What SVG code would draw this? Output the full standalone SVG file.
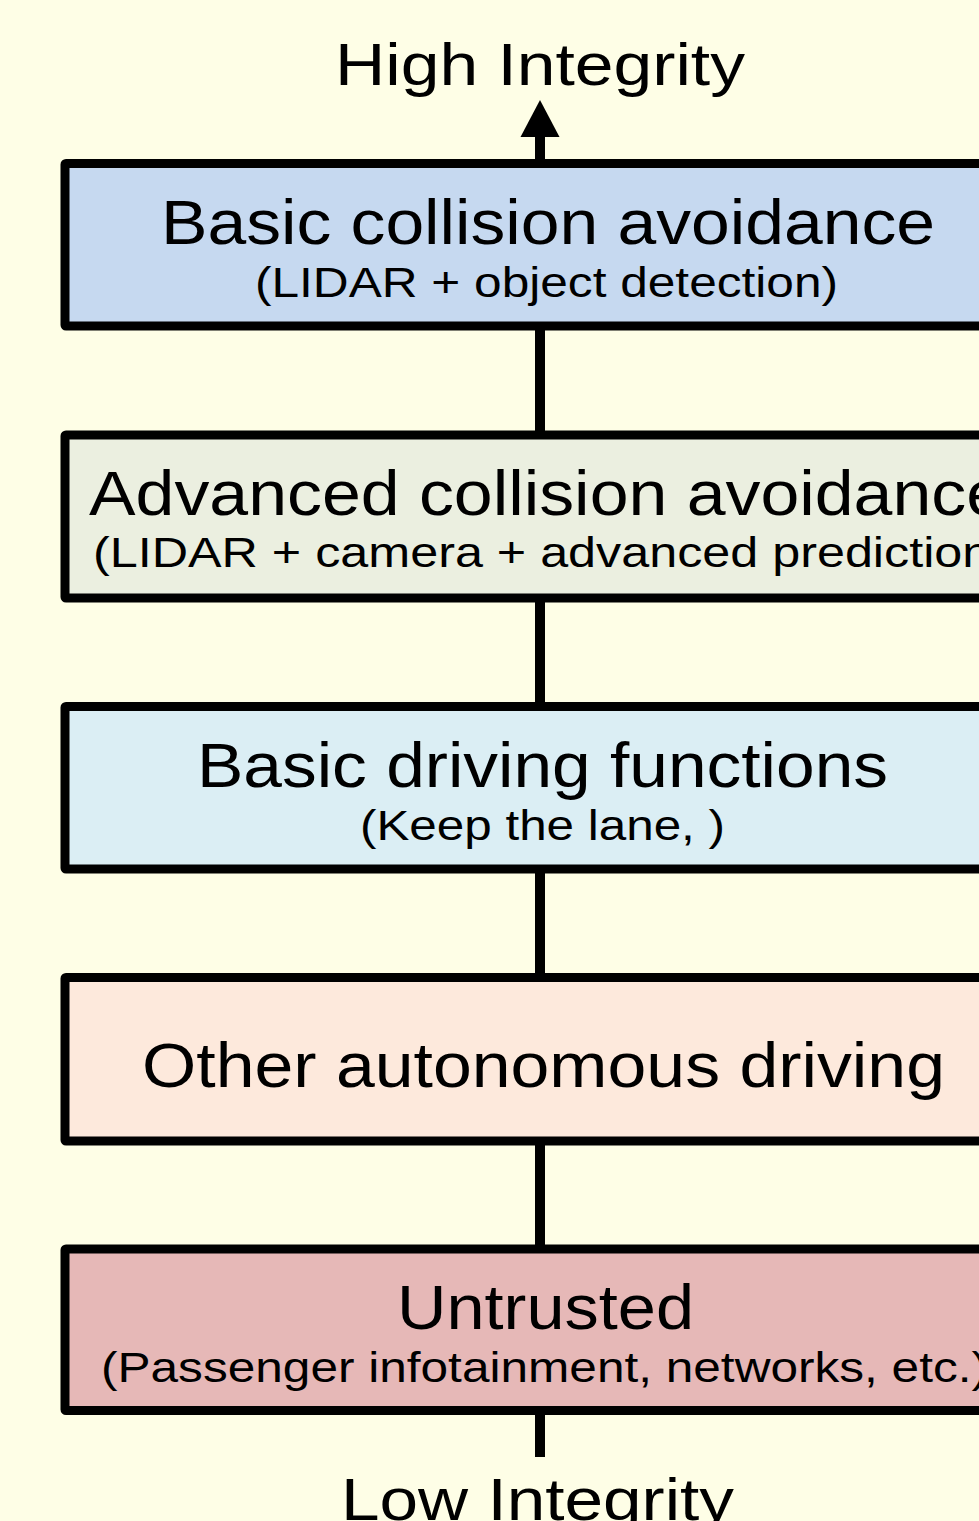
<svg xmlns="http://www.w3.org/2000/svg" width="979" height="1521" viewBox="0 0 979 1521">
  <style>
    .box { stroke: #000; stroke-width: 9; stroke-linejoin: round; }
    .title { font-family: "Liberation Sans", Arial, sans-serif; font-size: 63px; fill: #000; }
    .sub { font-family: "Liberation Sans", Arial, sans-serif; font-size: 43px; fill: #000; }
    .end { font-family: "Liberation Sans", Arial, sans-serif; font-size: 60px; fill: #000; }
    .link { stroke: #000; stroke-width: 10; fill: none; }
  </style>
  <defs>
    <marker id="arrow" markerUnits="userSpaceOnUse" viewBox="0 -20 38 40" refX="1" refY="0" markerWidth="38" markerHeight="40" orient="auto">
      <path d="M0,-19.5 L37,0 L0,19.5 Z" fill="#000"/>
    </marker>
  </defs>

  <rect width="979" height="1521" fill="#FEFEE6"/>

  <!-- axis labels -->
  <text class="end" x="335" y="85" textLength="410" lengthAdjust="spacingAndGlyphs">High Integrity</text>
  <text class="end" x="341" y="1520" textLength="393" lengthAdjust="spacingAndGlyphs">Low Integrity</text>

  <!-- connectors -->
  <g id="connectors">
    <line class="link" x1="540" y1="164" x2="540" y2="136" marker-end="url(#arrow)"/>
    <line class="link" x1="540" y1="326" x2="540" y2="435"/>
    <line class="link" x1="540" y1="598" x2="540" y2="707"/>
    <line class="link" x1="540" y1="869" x2="540" y2="978"/>
    <line class="link" x1="540" y1="1141" x2="540" y2="1249"/>
    <line class="link" x1="540" y1="1410" x2="540" y2="1457"/>
  </g>

  <g id="basic-collision">
    <rect class="box" x="65" y="163.5" width="1040" height="162.5" rx="1" fill="#C6D9F0"/>
    <text class="title" x="161" y="244" textLength="774" lengthAdjust="spacingAndGlyphs">Basic collision avoidance</text>
    <text class="sub" x="255" y="297" textLength="583" lengthAdjust="spacingAndGlyphs">(LIDAR + object detection)</text>
  </g>

  <g id="advanced-collision">
    <rect class="box" x="65" y="435" width="1040" height="163" rx="1" fill="#EBEFE0"/>
    <text class="title" x="89" y="515" textLength="916" lengthAdjust="spacingAndGlyphs">Advanced collision avoidance</text>
    <text class="sub" x="93" y="567" textLength="914" lengthAdjust="spacingAndGlyphs">(LIDAR + camera + advanced prediction)</text>
  </g>

  <g id="basic-driving">
    <rect class="box" x="65" y="706.5" width="1040" height="162.5" rx="1" fill="#DBEEF4"/>
    <text class="title" x="197" y="787" textLength="691" lengthAdjust="spacingAndGlyphs">Basic driving functions</text>
    <text class="sub" x="360" y="840" textLength="365" lengthAdjust="spacingAndGlyphs">(Keep the lane, )</text>
  </g>

  <g id="other-autonomous">
    <rect class="box" x="65" y="977.5" width="1040" height="163.5" rx="1" fill="#FDE9DC"/>
    <text class="title" x="142" y="1087" textLength="803" lengthAdjust="spacingAndGlyphs">Other autonomous driving</text>
  </g>

  <g id="untrusted">
    <rect class="box" x="65" y="1249" width="1040" height="161.5" rx="1" fill="#E6B8B7"/>
    <text class="title" x="397" y="1329" textLength="297" lengthAdjust="spacingAndGlyphs">Untrusted</text>
    <text class="sub" x="101" y="1382" textLength="887" lengthAdjust="spacingAndGlyphs">(Passenger infotainment, networks, etc.)</text>
  </g>
</svg>
